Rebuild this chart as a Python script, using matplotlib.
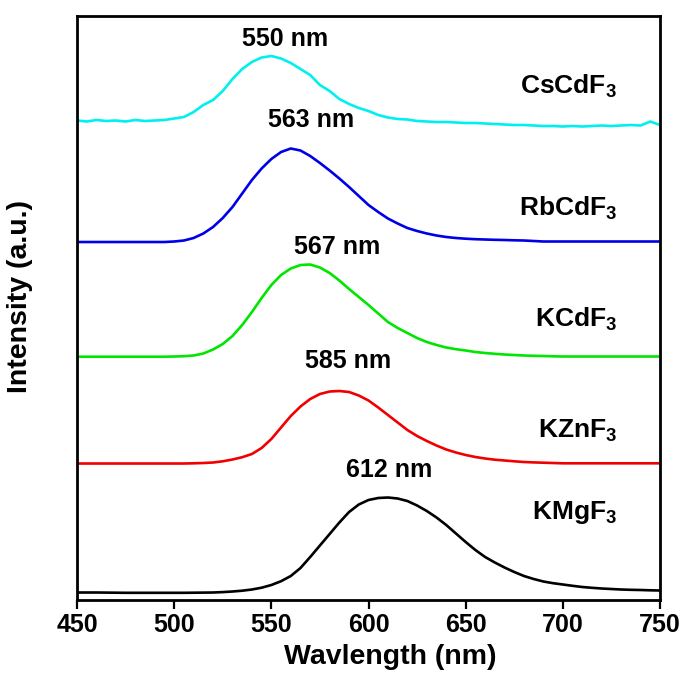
import matplotlib

matplotlib.use("Agg")
import matplotlib.pyplot as plt

plt.rcParams["font.family"] = ["Liberation Sans", "DejaVu Sans"]
plt.rcParams["mathtext.fontset"] = "custom"
plt.rcParams["mathtext.rm"] = "Liberation Sans:bold"
plt.rcParams["mathtext.bf"] = "Liberation Sans:bold"

# wavelength grid (nm)
wavelength = list(range(450, 751, 5))

# stacked emission spectra, already offset (arbitrary units)
kmgf3 = [7.5, 7.5, 7.5, 7.4, 7.3, 7.2, 7.2, 7.2, 7.2, 7.2, 7.2, 7.2, 7.3, 7.4, 7.5, 7.9,
         8.5, 9.3, 10.5, 12.3, 15, 18.8, 24, 32, 43, 54.5, 66, 77.5, 88, 95.5, 100, 102,
         102.5, 101.5, 99, 94.5, 89, 82.5, 75, 66.5, 58, 50, 43, 37.5, 32.5, 28, 24, 21,
         18.5, 16.8, 15.5, 14.2, 13, 12.2, 11.5, 11, 10.5, 10.2, 10, 9.7, 9.5]
kznf3 = [136.5] * 12 + [
    136.7, 137, 137.5, 138.7, 140.5, 142.8, 146, 152, 161, 172.5, 184, 193.5, 201, 206,
    208.5, 209, 208, 204.5, 199.5, 192.5, 185, 177.5, 170, 164, 159, 154.5, 150.5,
    147.5, 145, 143, 141.5, 140.3, 139.5, 138.7, 138, 137.6, 137.3, 137] + [136.7] * 11
kcdf3 = [243.3] * 10 + [
    243.5, 243.8, 244.5, 246.5, 250.5, 256, 264, 275, 288, 302, 315, 325, 331.5, 335,
    335.5, 332.5, 327, 319.5, 311, 303, 295, 286.5, 278, 272, 267, 262, 258, 255, 252.5,
    250.8, 249.5, 248, 247, 246.2, 245.5, 245, 244.5, 244.2, 244, 243.7] + [243.5] * 11
rbcdf3 = [358] * 10 + [
    358.5, 359.5, 362, 366.5, 373, 382, 393, 406.5, 420, 431.5, 441, 448, 451.5, 449.5,
    444, 437, 429.5, 421.5, 413, 404, 395, 388, 381.5, 376.5, 372, 369, 366.5, 364.5,
    363, 362, 361.3, 360.8, 360.5, 360.2, 360, 359.7, 359.5, 359] + [358.5] * 13
cscdf3 = [479.5, 478.5, 480, 479, 479.5, 478.5, 480, 479, 479.5, 480, 481.5, 483, 488,
          495, 500, 509, 521, 531, 538, 542.5, 544, 541.5, 537, 531, 525, 515, 509, 501,
          496, 492, 489, 485, 482.5, 481, 480.5, 479, 478.5, 478, 478, 477.5, 477, 477,
          476.5, 476, 475.5, 475, 475, 474.5, 474, 474, 473.5, 474, 473.5, 474, 474.5,
          474, 474.5, 475, 474.5, 478.5, 475]

# sample names, right-aligned, with their baselines
sample_labels = ["CsCdF$_3$", "RbCdF$_3$", "KCdF$_3$", "KZnF$_3$", "KMgF$_3$"]
sample_label_y = [506.7, 385, 273.3, 163, 80.7]

# peak annotations: text, centre (nm), baseline
peak_texts = ["550 nm", "563 nm", "567 nm", "585 nm", "612 nm"]
peak_text_x = [557.0, 570.4, 583.6, 589.5, 610.8]
peak_text_y = [554, 473, 346, 232, 123]


def plot_spectra(output_path: str) -> None:
    fig = plt.figure(figsize=(6.87, 6.84), dpi=100)
    ax = fig.add_axes([0.1121, 0.1228, 0.8486, 0.8538])

    series = [
        (cscdf3, "#00F0F0"),
        (rbcdf3, "#0000E6"),
        (kcdf3, "#00E600"),
        (kznf3, "#F00000"),
        (kmgf3, "#000000"),
    ]
    for y_values, color in series:
        ax.plot(wavelength, y_values, color=color, linewidth=1.9)

    for label, y in zip(sample_labels, sample_label_y):
        ax.text(728, y, label, ha="right", va="baseline", fontsize=19, fontweight="bold")

    for text, x, y in zip(peak_texts, peak_text_x, peak_text_y):
        ax.text(x, y, text, ha="center", va="baseline", fontsize=18, fontweight="bold")

    ax.set_xlim(450, 750)
    ax.set_ylim(0, 584)
    ax.set_xticks(range(450, 751, 50))
    ax.set_yticks([])
    ax.tick_params(axis="x", direction="out", length=6.5, width=1.6, pad=3, labelsize=18)
    for tick_label in ax.get_xticklabels():
        tick_label.set_fontweight("bold")
    for spine in ax.spines.values():
        spine.set_linewidth(2.0)

    ax.set_xlabel("Wavlength (nm)", fontsize=20.5, fontweight="bold")
    ax.xaxis.set_label_coords(0.537, -0.075)
    ax.set_ylabel("Intensity (a.u.)", fontsize=20.5, fontweight="bold")
    ax.yaxis.set_label_coords(-0.075, 0.519)

    fig.savefig(output_path, dpi=100)
    plt.close(fig)


def main() -> int:
    plot_spectra("out.png")
    return 0


if __name__ == "__main__":
    raise SystemExit(main())
